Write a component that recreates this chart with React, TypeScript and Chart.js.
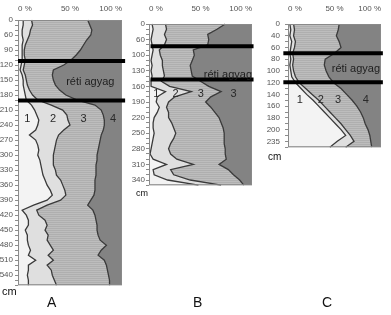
import React, { useEffect, useRef } from 'react';
import { Chart, registerables } from 'chart.js';
Chart.register(...registerables);

// ---------- Panel A ----------
const DEPTH_A = [0, 20, 40, 60, 70, 80, 90, 100, 110, 120, 130, 140, 150, 160, 170, 180, 190, 200, 210, 220, 230, 240, 250, 260, 270, 280, 290, 300, 310, 320, 330, 340, 350, 360, 370, 380, 390, 400, 410, 420, 430, 440, 450, 460, 470, 480, 490, 500, 510, 520, 530, 540, 550, 560];
const TICKS_A = ['0', '60', '90', '120', '150', '180', '210', '240', '270', '300', '330', '360', '390', '420', '450', '480', '510', '540'];
const A_B1 = [5, 5, 4, 4, 5, 4, 4, 4, 4, 3, 2, 4, 5, 5, 6, 7, 8, 13, 16, 18, 20, 19, 17, 11, 17, 19, 20, 19, 21, 22, 23, 24, 26, 28, 31, 33, 28, 15, 4, 8, 10, 10, 7, 9, 9, 10, 12, 10, 17, 10, 10, 9, 10, 10];
const A_B2 = [13, 14, 12, 11, 9, 7, 6, 6, 7, 6, 5, 7, 8, 9, 11, 14, 19, 32, 43, 47, 48, 50, 44, 39, 37, 36, 35, 34, 34, 34, 36, 37, 41, 43, 45, 46, 41, 28, 18, 20, 26, 28, 26, 29, 28, 31, 34, 29, 34, 28, 32, 33, 35, 37];
const A_B3 = [67, 69, 71, 70, 66, 63, 60, 56, 51, 44, 34, 33, 34, 36, 40, 46, 57, 74, 80, 82, 83, 83, 82, 80, 79, 78, 77, 76, 76, 75, 75, 75, 74, 74, 74, 73, 70, 67, 72, 74, 75, 76, 76, 77, 79, 85, 80, 77, 83, 85, 86, 87, 88, 88];
const A_RETI = [112, 191];
const A_NUMS = [
  { t: '1', pct: 9, depth: 228 },
  { t: '2', pct: 33.6, depth: 228 },
  { t: '3', pct: 63, depth: 228 },
  { t: '4', pct: 91.4, depth: 228 },
];
const A_RETI_LABEL = { pct: 69.5, depth: 154 };

// ---------- Panel B ----------
const DEPTH_B = [0, 20, 40, 60, 73, 87, 100, 110, 120, 130, 140, 150, 160, 170, 180, 190, 200, 210, 220, 230, 240, 250, 260, 270, 280, 290, 300, 310, 320, 330, 340, 350];
const TICKS_B = ['0', '60', '100', '130', '160', '190', '220', '250', '280', '310', '340'];
const B_B1 = [3, 4, 3, 2, 3, 4, 3, 2, 3, 2, 3, 2, 2, 16, 8, 7, 10, 8, 5, 4, 4, 5, 4, 3, 2, 1, 4, 17, 4, 5, 18, 48];
const B_B2 = [16, 17, 15, 17, 15, 10, 11, 13, 13, 14, 15, 12, 20, 41, 25, 19, 17, 19, 19, 22, 24, 26, 24, 21, 19, 21, 27, 43, 21, 24, 40, 70];
const B_B3 = [74, 66, 57, 58, 57, 43, 44, 42, 40, 41, 42, 50, 58, 70, 60, 55, 60, 64, 68, 70, 72, 73, 73, 73, 74, 74, 75, 68, 77, 82, 88, 92];
const B_RETI = [77, 146.5];
const B_NUMS = [
  { t: '1', pct: 7.2, depth: 175 },
  { t: '2', pct: 25.9, depth: 175 },
  { t: '3', pct: 50.2, depth: 175 },
  { t: '3', pct: 82.2, depth: 175 },
];
const B_RETI_LABEL = { pct: 76.6, depth: 138 };

// ---------- Panel C ----------
const DEPTH_C = [0, 20, 40, 50, 60, 70, 80, 90, 100, 110, 120, 130, 140, 150, 160, 170, 180, 190, 200, 215, 235, 245];
const TICKS_C = ['0', '40', '60', '80', '100', '120', '140', '160', '180', '200', '235'];
const C_B1 = [2, 3, 2, 4, 3, 2, 3, 2, 3, 4, 8, 14, 20, 27, 33, 39, 45, 51, 57, 62, 53, 45];
const C_B2 = [6, 7, 6, 8, 7, 5, 6, 5, 6, 8, 12, 19, 26, 33, 39, 45, 51, 57, 62, 67, 71, 62];
const C_B3 = [55, 54, 52, 55, 57, 50, 40, 39, 41, 44, 49, 57, 63, 69, 74, 78, 81, 83, 86, 88, 89, 90];
const C_RETI = [70, 119.5];
const C_NUMS = [
  { t: '1', pct: 12.7, depth: 150 },
  { t: '2', pct: 35.3, depth: 150 },
  { t: '3', pct: 53.7, depth: 150 },
  { t: '4', pct: 83.7, depth: 150 },
];
const C_RETI_LABEL = { pct: 73, depth: 96 };

const X_TICK_SUFFIX = ' %';
const RETI_TEXT = 'réti agyag';

const ZONE1 = '#f3f3f3';
const ZONE2 = '#dfdfdf';
const ZONE3_BASE = '#bdbdbd';
const ZONE3_LINE = '#afafaf';
const ZONE4 = '#838383';
const LINE = '#3a3a3a';
const TICK_COLOR = '#555555';
const FONT = '"Liberation Sans", Arial, sans-serif';

Chart.defaults.font.family = FONT;

function stripePattern(base: string, line: string, period: number) {
  const c = document.createElement('canvas');
  c.width = 4;
  c.height = period;
  const g = c.getContext('2d')!;
  g.fillStyle = base;
  g.fillRect(0, 0, 4, period);
  g.fillStyle = line;
  g.fillRect(0, 0, 4, 1);
  return g.createPattern(c, 'repeat')!;
}

function depthToIndex(depths: number[], d: number) {
  for (let i = 0; i < depths.length - 1; i++) {
    if (d >= depths[i] && d <= depths[i + 1]) {
      return i + (d - depths[i]) / (depths[i + 1] - depths[i]);
    }
  }
  return d <= depths[0] ? 0 : depths.length - 1;
}

type Panel = {
  depths: number[];
  ticks: string[];
  b1: number[];
  b2: number[];
  b3: number[];
  reti: number[];
  retiSpan: [number, number];
  retiLabel: { pct: number; depth: number };
  nums: { t: string; pct: number; depth: number }[];
  left: number;
  width: number;
  height: number;
  axisW: number;
  axisH: number;
  padRight: number;
  padBottom: number;
  xPad: number;
  yPad: number;
};

const PANELS: Panel[] = [
  {
    depths: DEPTH_A, ticks: TICKS_A, b1: A_B1, b2: A_B2, b3: A_B3,
    reti: A_RETI, retiSpan: [0, 103], retiLabel: A_RETI_LABEL, nums: A_NUMS,
    left: 0, width: 128, height: 292, axisW: 18, axisH: 20, padRight: 5, padBottom: 4, xPad: 6, yPad: 2,
  },
  {
    depths: DEPTH_B, ticks: TICKS_B, b1: B_B1, b2: B_B2, b3: B_B3,
    reti: B_RETI, retiSpan: [1.5, 101.5], retiLabel: B_RETI_LABEL, nums: B_NUMS,
    left: 131, width: 131, height: 191, axisW: 18, axisH: 24, padRight: 6, padBottom: 4, xPad: 10, yPad: 1,
  },
  {
    depths: DEPTH_C, ticks: TICKS_C, b1: C_B1, b2: C_B2, b3: C_B3,
    reti: C_RETI, retiSpan: [-5, 102], retiLabel: C_RETI_LABEL, nums: C_NUMS,
    left: 266, width: 125, height: 157, axisW: 22, axisH: 24, padRight: 3, padBottom: 4, xPad: 10, yPad: 5,
  },
];

function overlay(cfg: Panel) {
  return {
    id: 'profileOverlay',
    beforeDraw(chart: any) {
      const { ctx, chartArea: a } = chart;
      ctx.save();
      ctx.fillStyle = ZONE4;
      ctx.fillRect(a.left, a.top, a.right - a.left, a.bottom - a.top);
      ctx.restore();
    },
    afterDraw(chart: any) {
      const { ctx, chartArea: a } = chart;
      const x = chart.scales.x;
      const y = chart.scales.y;
      ctx.save();
      ctx.strokeStyle = '#8a8a8a';
      ctx.lineWidth = 1;
      ctx.strokeRect(a.left + 0.5, a.top + 0.5, a.right - a.left - 1, a.bottom - a.top - 1);
      // thick layer boundaries
      ctx.strokeStyle = '#000';
      ctx.lineWidth = 4;
      for (const d of cfg.reti) {
        const py = y.getPixelForValue(depthToIndex(cfg.depths, d));
        ctx.beginPath();
        ctx.moveTo(x.getPixelForValue(cfg.retiSpan[0]), py);
        ctx.lineTo(x.getPixelForValue(cfg.retiSpan[1]), py);
        ctx.stroke();
      }
      ctx.fillStyle = '#1e1e1e';
      ctx.textAlign = 'center';
      ctx.textBaseline = 'middle';
      ctx.font = '11px ' + FONT;
      ctx.fillText(
        RETI_TEXT,
        x.getPixelForValue(cfg.retiLabel.pct),
        y.getPixelForValue(depthToIndex(cfg.depths, cfg.retiLabel.depth))
      );
      ctx.fillStyle = '#2a2a2a';
      for (const n of cfg.nums) {
        ctx.fillText(n.t, x.getPixelForValue(n.pct), y.getPixelForValue(depthToIndex(cfg.depths, n.depth)));
      }
      ctx.restore();
    },
  };
}

function ProfileChart({ cfg }: { cfg: Panel }) {
  const ref = useRef<HTMLCanvasElement>(null);
  useEffect(() => {
    const canvas = ref.current!;
    const zone3 = stripePattern(ZONE3_BASE, ZONE3_LINE, 2);
    const common = { borderColor: LINE, borderWidth: 1.3, pointRadius: 0, tension: 0, fill: 'origin' };
    const chart = new Chart(canvas, {
      type: 'line',
      data: {
        labels: cfg.depths.map(String),
        datasets: [
          { ...common, data: cfg.b1, backgroundColor: ZONE1 },
          { ...common, data: cfg.b2, backgroundColor: ZONE2 },
          { ...common, data: cfg.b3, backgroundColor: zone3 },
        ] as any,
      },
      options: {
        indexAxis: 'y',
        responsive: false,
        animation: false,
        devicePixelRatio: 1,
        events: [],
        layout: { padding: { left: 0, top: 0, right: cfg.padRight, bottom: cfg.padBottom } },
        plugins: {
          legend: { display: false },
          tooltip: { enabled: false },
          filler: { drawTime: 'beforeDatasetsDraw' },
        } as any,
        scales: {
          x: {
            type: 'linear',
            position: 'top',
            min: 0,
            max: 100,
            border: { display: false },
            grid: { display: false, drawTicks: false },
            ticks: {
              stepSize: 50,
              align: 'inner',
              padding: cfg.xPad,
              color: TICK_COLOR,
              font: { size: 8 },
              maxRotation: 0,
              callback: (v: any) => v + X_TICK_SUFFIX,
            },
            afterFit: (s: any) => { s.height = cfg.axisH; },
          },
          y: {
            type: 'category',
            position: 'left',
            offset: false,
            border: { display: false },
            grid: { drawOnChartArea: false, drawTicks: true, tickLength: 3, color: '#8c8c8c' },
            ticks: {
              autoSkip: false,
              padding: cfg.yPad,
              color: TICK_COLOR,
              font: { size: 8 },
              maxRotation: 0,
              callback: (v: any) => {
                const l = String(cfg.depths[v as number]);
                return cfg.ticks.includes(l) ? l : '';
              },
            },
            afterFit: (s: any) => { s.width = cfg.axisW; },
          },
        } as any,
      } as any,
      plugins: [overlay(cfg)],
    });
    return () => chart.destroy();
  }, [cfg]);
  return (
    <canvas
      ref={ref}
      width={cfg.width}
      height={cfg.height}
      style={{ position: 'absolute', left: cfg.left, top: 0, width: cfg.width, height: cfg.height }}
    />
  );
}

const txt = (left: number, top: number, size: number, s: string) => (
  <div style={{ position: 'absolute', left, top, fontSize: size, lineHeight: 1, color: '#111', fontFamily: FONT, whiteSpace: 'nowrap' }}>{s}</div>
);

export default function App() {
  return (
    <div style={{ position: 'absolute', left: 0, top: 0, width: 391, height: 315, background: '#fff', overflow: 'hidden' }}>
      {PANELS.map((p, i) => <ProfileChart key={i} cfg={p} />)}
      {txt(2, 286, 11, 'cm')}
      {txt(136, 189, 9, 'cm')}
      {txt(268, 152, 10, 'cm')}
      {txt(47, 295, 14, 'A')}
      {txt(193, 295, 14, 'B')}
      {txt(322, 295, 14, 'C')}
    </div>
  );
}
